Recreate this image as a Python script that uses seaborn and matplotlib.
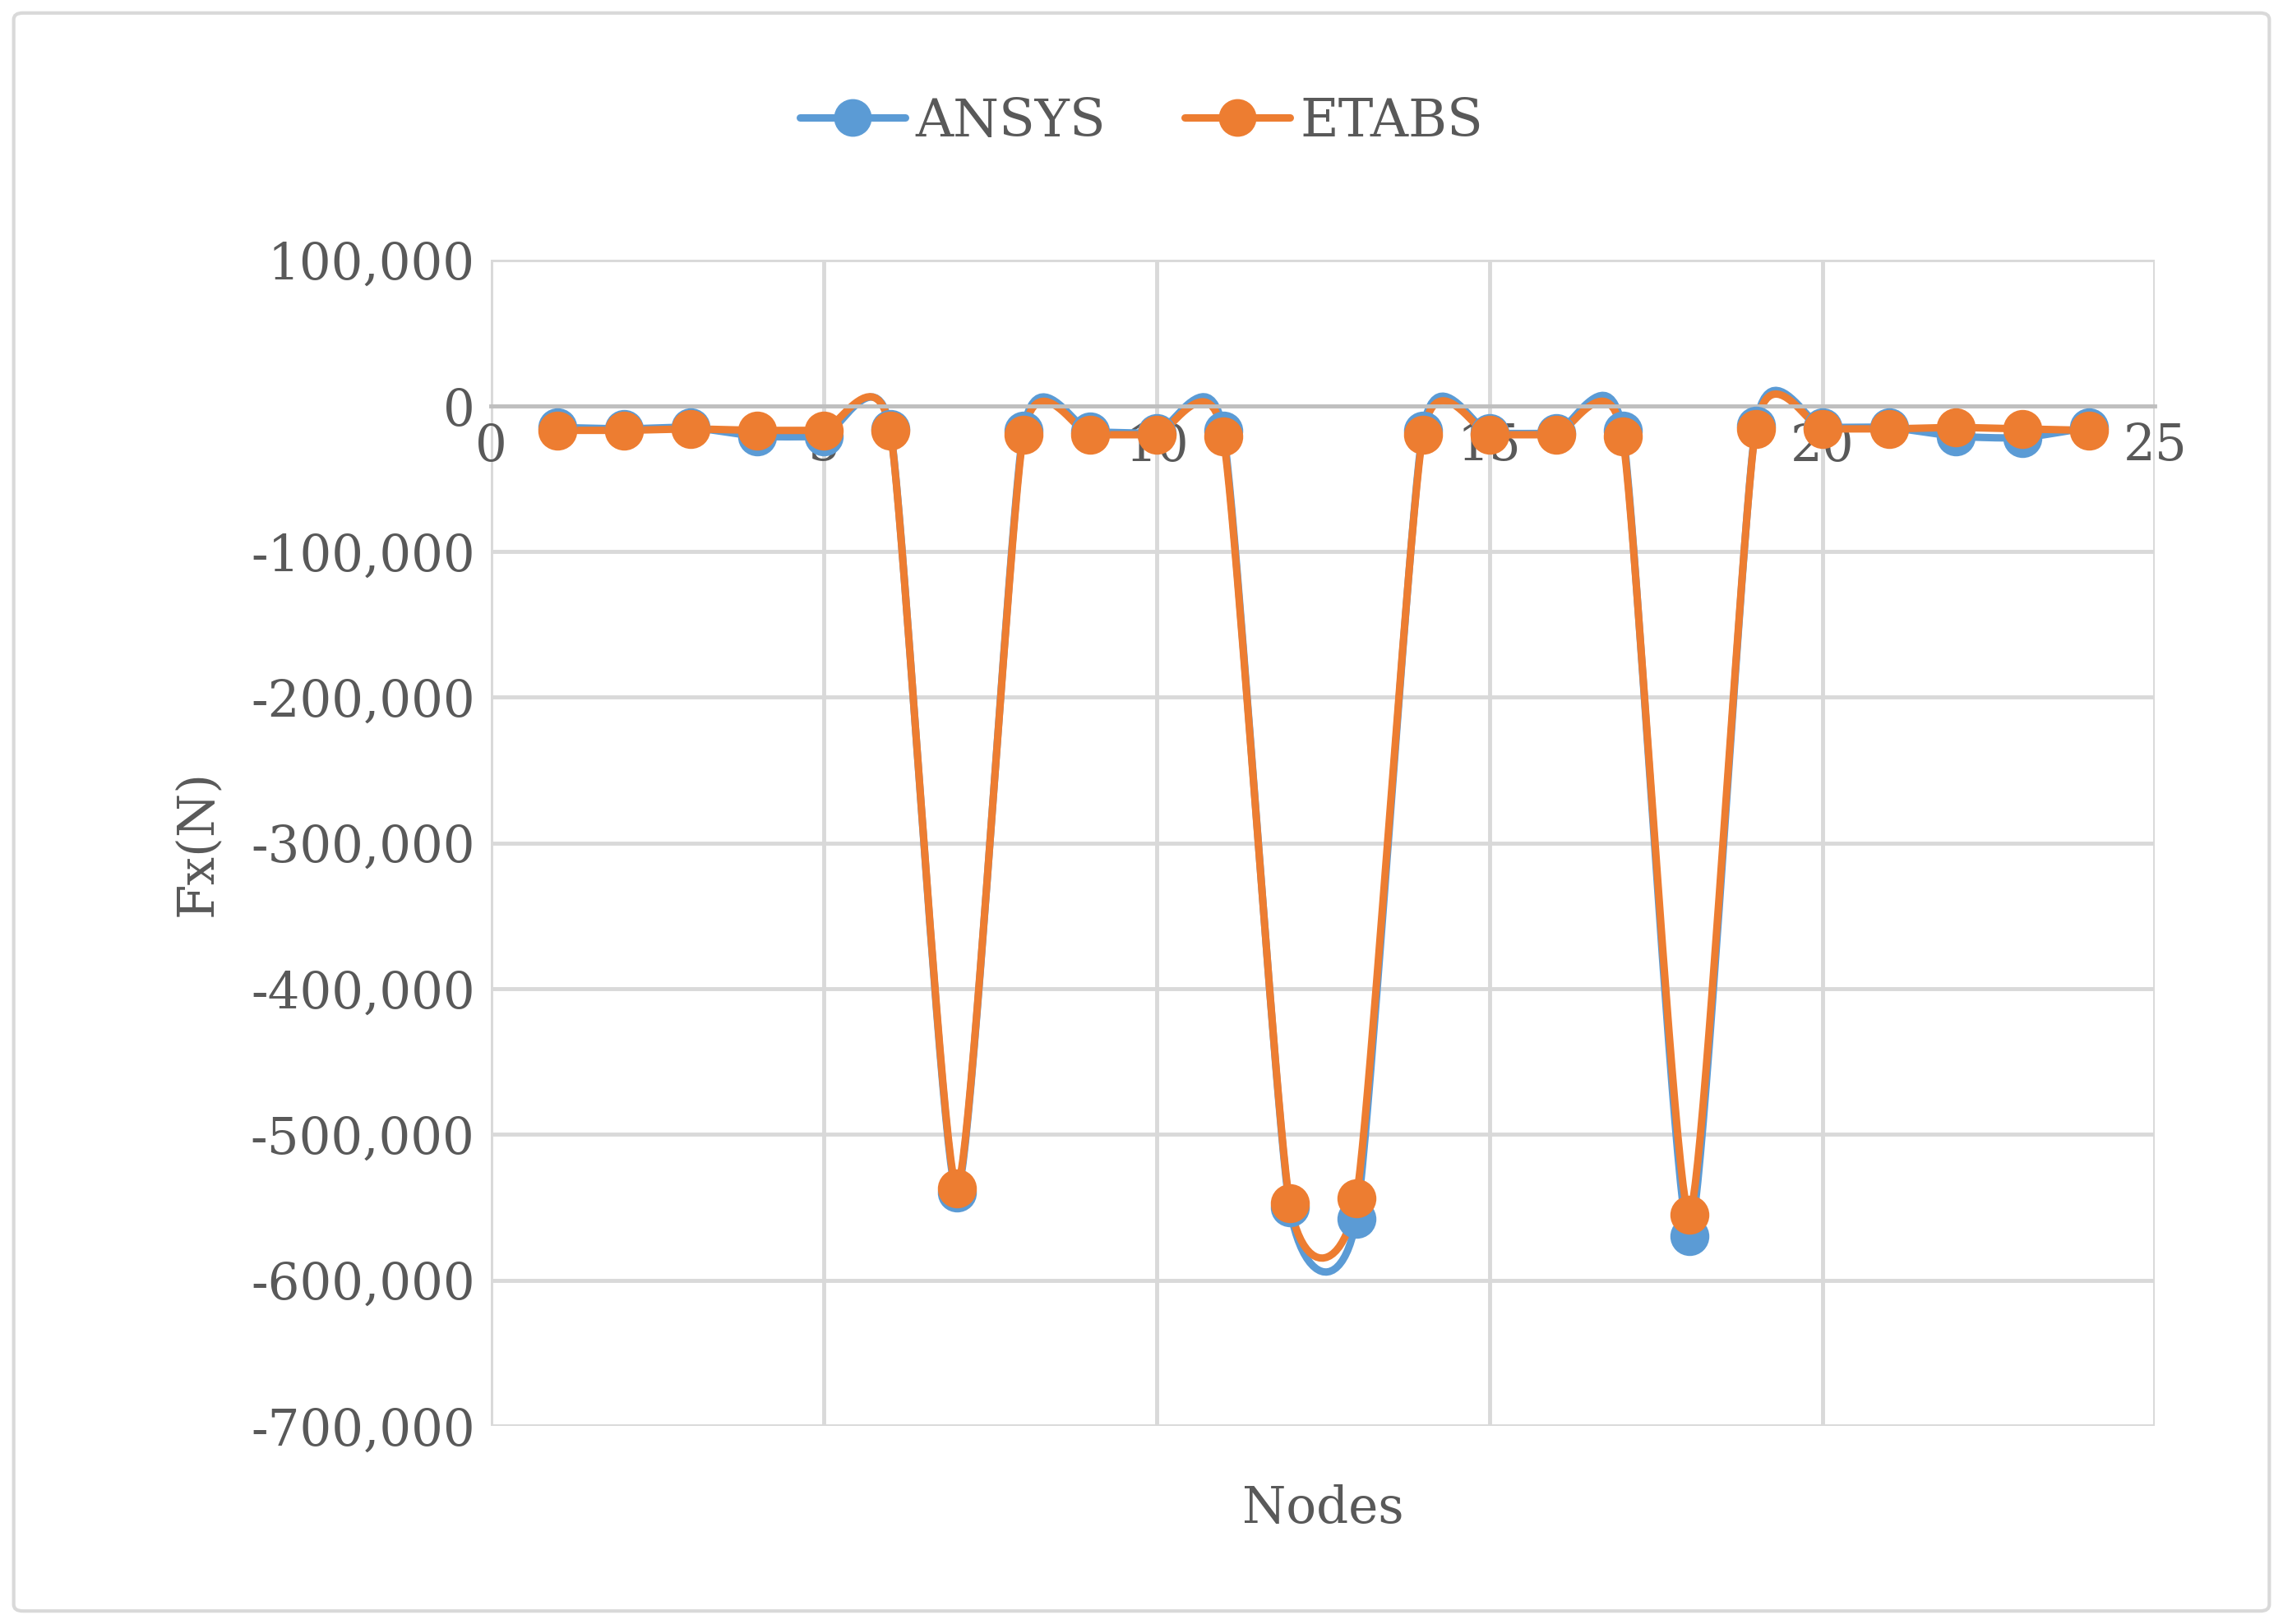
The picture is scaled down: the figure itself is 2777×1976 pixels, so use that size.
import numpy as np
import matplotlib
matplotlib.use("Agg")
import matplotlib.pyplot as plt
import seaborn as sns
from matplotlib.patches import FancyBboxPatch
from matplotlib.lines import Line2D

nodes = list(range(1, 25))
ansys = [-15000, -16000, -15000, -21000, -21000, -16000, -540000, -17000, -18000, -19000, -17000, -550000,
         -558000, -17000, -19000, -19000, -17000, -570000, -14000, -15000, -15000, -21000, -22000, -15000]
etabs = [-17000, -17000, -16000, -17000, -17000, -17000, -537000, -20000, -20000, -20000, -21000, -547000,
         -544000, -20000, -20000, -20000, -21000, -555000, -16000, -16000, -16000, -15000, -16000, -17000]

def smooth(x, y, n=24, k=0.3):
    x = np.asarray(x, float); y = np.asarray(y, float)
    px = np.concatenate([[x[0]], x, [x[-1]]]); py = np.concatenate([[y[0]], y, [y[-1]]])
    xs, ys = [], []
    t = np.linspace(0, 1, n, endpoint=False)
    for i in range(1, len(x)):
        p0, p1, p2, p3 = [np.array([px[j], py[j]]) for j in (i - 1, i, i + 1, i + 2)]
        m1 = (p2 - p0) * k; m2 = (p3 - p1) * k
        h00 = 2*t**3 - 3*t**2 + 1; h10 = t**3 - 2*t**2 + t; h01 = -2*t**3 + 3*t**2; h11 = t**3 - t**2
        pts = np.outer(h00, p1) + np.outer(h10, m1) + np.outer(h01, p2) + np.outer(h11, m2)
        xs.extend(pts[:, 0]); ys.extend(pts[:, 1])
    xs.append(x[-1]); ys.append(y[-1])
    return np.array(xs), np.array(ys)

sns.set_theme(style="white")
plt.rcParams['font.family'] = ['DejaVu Serif']
fig = plt.figure(figsize=(27.77, 19.76), dpi=100)
ax = fig.add_axes([0.215, 0.122, 0.729, 0.718])
fig.patches.append(FancyBboxPatch((0.006, 0.008), 0.988, 0.984, boxstyle="round,pad=0,rounding_size=0.004",
                                  transform=fig.transFigure, fc='none', ec='#d9d9d9', lw=3))

colors = {'ANSYS': '#5b9bd5', 'ETABS': '#ed7d31'}
for name, vals in [('ANSYS', ansys), ('ETABS', etabs)]:
    sx, sy = smooth(nodes, vals)
    sns.lineplot(x=sx, y=sy, ax=ax, color=colors[name], lw=6.5, sort=False, estimator=None)
    sns.scatterplot(x=nodes, y=vals, ax=ax, color=colors[name], s=1000, edgecolor=colors[name], zorder=5)

ax.set_xlim(0, 25); ax.set_ylim(-700000, 100000)
ax.set_xticks(range(0, 26, 5)); ax.set_yticks(range(-700000, 100001, 100000))
ax.yaxis.set_major_formatter(matplotlib.ticker.FuncFormatter(lambda v, p: f"{int(v):,}"))
ax.grid(True, color='#d9d9d9', lw=3.5)
for s in ['top', 'right', 'left', 'bottom']:
    ax.spines[s].set_color('#d9d9d9'); ax.spines[s].set_linewidth(3.5)
ax.spines['bottom'].set_position(('data', 0))
ax.spines['bottom'].set_color('#bfbfbf')
ax.spines['top'].set_visible(False); ax.spines['right'].set_visible(False); ax.spines['left'].set_visible(False)
ax.tick_params(labelsize=44, colors='#595959', length=0, pad=14)
ax.set_xlabel('Nodes', fontsize=44, color='#595959')
ax.xaxis.set_label_coords(0.5, -0.05)
ax.set_ylabel('Fx(N)', fontsize=44, color='#595959', labelpad=25)

h = [Line2D([], [], color=colors[n], lw=6.5, marker='o', ms=32) for n in ['ANSYS', 'ETABS']]
fig.legend(h, ['ANSYS', 'ETABS'], loc='center', bbox_to_anchor=(0.5, 0.925), ncol=2, frameon=False,
           fontsize=46, labelcolor='#595959', handlelength=2.0, handletextpad=0.2, columnspacing=1.5)
fig.savefig('out.png', dpi=100)
